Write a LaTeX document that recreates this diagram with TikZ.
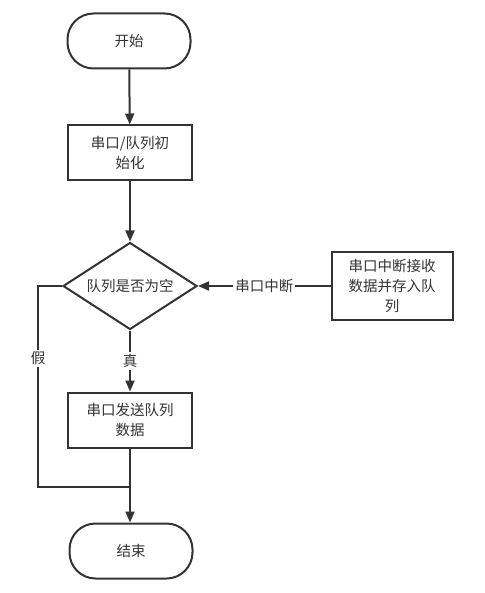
\documentclass[tikz,border=0pt]{standalone}
\usepackage{fontspec}
\setmainfont{Noto Sans CJK SC}
\usetikzlibrary{arrows.meta,shapes.geometric}
\definecolor{ink}{HTML}{333333}
\begin{document}
\begin{tikzpicture}[x=1pt,y=-1pt,
  every node/.style={font=\fontsize{14.5}{20}\selectfont, text=ink},
  term/.style={draw=ink, line width=2pt, rounded corners=26pt, minimum width=123pt, minimum height=55pt, inner sep=0pt},
  proc/.style={draw=ink, line width=2pt, minimum width=124pt, minimum height=55pt, align=center, inner sep=0pt, text width=100pt},
  dec/.style={draw=ink, line width=2pt, diamond, minimum width=134pt, minimum height=87pt, inner sep=0pt},
  conn/.style={draw=ink, line width=2pt},
  arr/.style={conn, -{Triangle[length=11pt,width=9pt]}},
  lbl/.style={fill=white, inner sep=2pt}]
\useasboundingbox[fill=white] (0,0) rectangle (484,593);
\node[term] (start) at (129,41) {开始};
\node[proc] (init) at (130,153) {串口/队列初\\始化};
\node[dec] (q) at (130,286) {\makebox[0pt]{队列是否为空}};
\node[proc, minimum width=121pt, minimum height=68pt, text width=96pt] (isr) at (392,286) {串口中断接收\\数据并存入队\\列};
\node[proc] (send) at (130,420) {串口发送队列\\数据};
\node[term] (end) at (131,551) {结束};
\coordinate (fl) at (38,286);
\coordinate (fb) at (38,487);
\coordinate (fj) at (130,487);
\draw[arr] (start) -- (init);
\draw[arr] (init) -- (q);
\draw[arr] (isr) -- node[lbl] {串口中断} (q);
\draw[arr] (q) -- node[lbl] {真} (send);
\draw[arr] (send) -- (send |- end.north);
\draw[conn] (q.west) -- (fl) -- node[lbl, pos=0.36] {假} (fb) -- (fj);
\end{tikzpicture}
\end{document}
